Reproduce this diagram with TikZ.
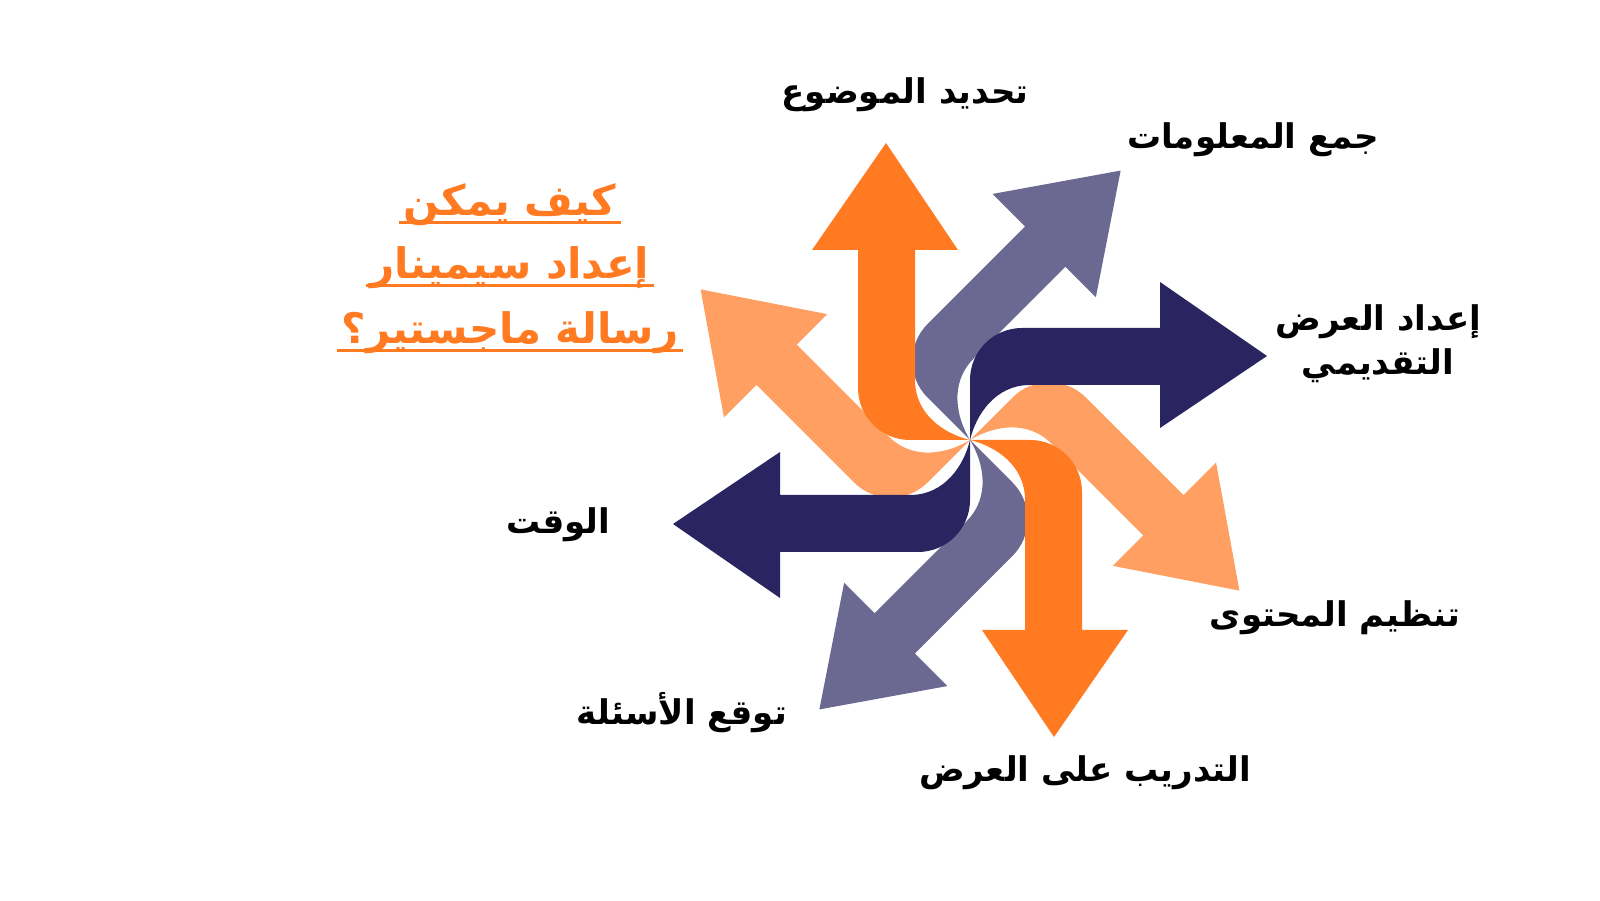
\documentclass[tikz,border=0pt]{standalone}
\usepackage{fontspec}
\TeXXeTstate=1
\newfontfamily\arabicfont[Script=Arabic]{DejaVu Sans}
\definecolor{corange}{HTML}{FF7A21}
\definecolor{cgray}{HTML}{6B6891}
\definecolor{cnavy}{HTML}{2A2560}
\definecolor{clight}{HTML}{FFA062}
\tikzset{
  lbl/.style={font=\arabicfont\bfseries\fontsize{17}{22}\selectfont, text=black, align=center},
  ttl/.style={font=\arabicfont\bfseries\fontsize{21}{26}\selectfont, text=corange, inner sep=2pt},
}
\newcommand{\swirl}[2]{%
  \fill[#2, rotate around={#1:(970,460)}, shift={(970,460)}]
    (0,0) -- (-60,0) arc[start angle=270, end angle=180, radius=52]
    -- (-112,190) -- (-158,190) -- (-84,297) -- (-12,190) -- (-55,190)
    -- (-55,60) .. controls (-55,25) and (-25,6) .. (0,0) -- cycle;}
\begin{document}
\begin{tikzpicture}[x=0.5pt,y=0.5pt]
\useasboundingbox (0,0) rectangle (1600,900);
\fill[white] (0,0) rectangle (1600,900);
\swirl{-135}{clight}
\swirl{45}{clight}
\swirl{-45}{cgray}
\swirl{135}{cgray}
\swirl{0}{corange}
\swirl{180}{corange}
\swirl{-90}{cnavy}
\swirl{90}{cnavy}
\node[lbl] (l1) at (905,805) {\beginR تحديد الموضوع\endR};
\node[lbl] (l2) at (1253,760) {\beginR جمع المعلومات\endR};
\node[lbl] (l3) at (1378,556) {\beginR إعداد العرض\endR\\\beginR التقديمي\endR};
\node[lbl] (l4) at (1335,282) {\beginR تنظيم المحتوى\endR};
\node[lbl] (l5) at (1085,127) {\beginR التدريب على العرض\endR};
\node[lbl] (l6) at (682,187) {\beginR توقع الأسئلة\endR};
\node[lbl] (l7) at (558,375) {\beginR الوقت\endR};
\node[ttl] (t1) at (510,695) {\beginR كيف يمكن\endR};
\node[ttl] (t2) at (510,632) {\beginR إعداد سيمينار\endR};
\node[ttl] (t3) at (510,567) {\beginR رسالة ماجستير؟\endR};
\foreach \t in {t1,t2,t3}
  \draw[corange, line width=1.5pt] ([yshift=4pt]\t.south west) -- ([yshift=4pt]\t.south east);
\end{tikzpicture}
\end{document}
